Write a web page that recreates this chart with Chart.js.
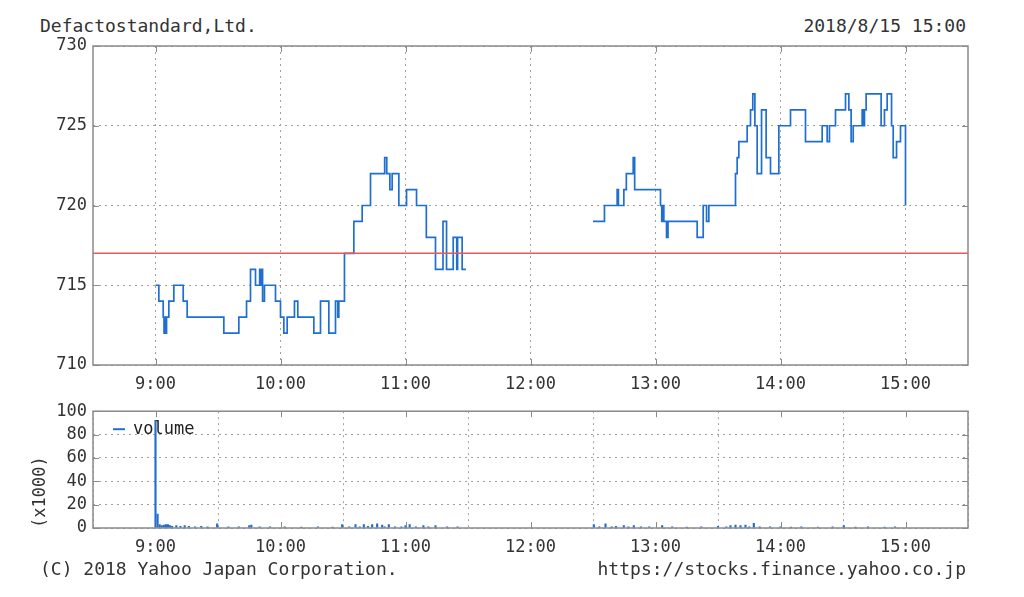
<!DOCTYPE html>
<html>
<head>
<meta charset="utf-8">
<title>Defactostandard,Ltd.</title>
<script src="https://cdn.jsdelivr.net/npm/chart.js@4/dist/chart.umd.min.js"></script>
<style>
  body { margin: 0; background: #fff; }
  #wrap { position: relative; width: 1024px; height: 597px; font-family: "DejaVu Sans Mono", monospace; color: #333; }
  .txt { position: absolute; font-size: 18px; line-height: 18px; white-space: pre; }
  canvas { position: absolute; left: 0; }
</style>
</head>
<body>
<div id="wrap">
  <div class="txt" style="left:40px; top:17px;">Defactostandard,Ltd.</div>
  <div class="txt" style="right:58px; top:17px;">2018/8/15 15:00</div>
  <canvas id="priceChart" width="1024" height="400" style="top:0;"></canvas>
  <canvas id="volChart" width="1024" height="202" style="top:395px;"></canvas>
  <div class="txt" style="left:40px; top:560px;">(C) 2018 Yahoo Japan Corporation.</div>
  <div class="txt" style="right:58px; top:560px;">https://stocks.finance.yahoo.co.jp</div>
</div>
<script>
// Morning session: minutes after 9:00 where the price changes, and the new price
const amMinutes = [0, 1.6, 3.7, 4.1, 4.5, 5.0, 5.3, 6.4, 8.8, 13.3,
                   15.2, 32.8, 40, 43.7, 45.6, 48, 50, 50.5, 51, 51.4,
                   52.3, 57.6, 60, 61.6, 63.2, 66.7, 68.3, 76, 79.2, 83.2,
                   86.4, 87.5, 88, 90.7, 95.2, 99.2, 103.2, 110, 111, 112.5,
                   113.6, 116.8, 120.5, 125.3, 130, 134.4, 138, 139.7, 142.9, 144.6,
                   145, 147.2, 149];
const amPrices  = [715, 714, 713, 712, 713, 712, 713, 714, 715, 714,
                   713, 712, 713, 714, 716, 715, 716, 715, 716, 714,
                   715, 714, 713, 712, 713, 714, 713, 712, 714, 712,
                   714, 713, 714, 717, 719, 720, 722, 723, 722, 721,
                   722, 720, 721, 720, 718, 716, 719, 716, 718, 716,
                   718, 716, 716];

// Afternoon session
const pmMinutes = [210, 215.5, 221.6, 222.2, 224.8, 226, 229.3, 230, 242.4, 243,
                   243.5, 244, 245.3, 246, 260, 262.9, 264.5, 265.6, 278.4, 279.2,
                   280, 284, 285.6, 286.7, 287.7, 288.8, 290.9, 293.1, 295.2, 299.2,
                   304.8, 312, 320, 322.4, 323.5, 326.4, 331.2, 332.8, 333.9, 334.9,
                   339.2, 339.8, 340.3, 341.1, 348.3, 349.9, 351.2, 353.3, 354.1, 355.7,
                   357.6, 360];
const pmPrices  = [719, 720, 721, 720, 721, 722, 723, 721, 720, 719,
                   720, 719, 718, 719, 718, 720, 719, 720, 722, 723,
                   724, 725, 726, 727, 725, 722, 726, 723, 722, 725,
                   726, 724, 725, 724, 725, 726, 727, 726, 724, 725,
                   726, 725, 726, 727, 725, 726, 727, 725, 723, 724,
                   725, 720];

// Previous close (red line)
const prevClose = 717;

// Volume (x1000 shares)
const volMinutes = [0, 1, 2, 3, 4, 5, 6, 7, 8, 10, 12, 14, 16, 19, 22, 25, 29.6, 35, 40, 45, 46, 50, 55, 62, 70, 78, 85,
                    89.6, 93, 96, 98, 100, 102, 104, 106.4, 108.8, 110, 112, 115, 118, 120, 122, 125, 128.6, 131, 134.4, 140, 145,
                    210.4, 213, 216, 219, 221, 224.8, 227, 229.6, 233, 237, 243.2, 248, 255, 262, 270, 274, 276, 278.4, 280.8, 283.2,
                    285, 287.2, 290, 295, 300, 305, 310, 318, 325, 330.4, 336, 342, 350, 355];
const volValues  = [92, 12, 3, 2, 2.5, 3, 3, 2, 1.5, 2, 1.5, 2, 1.5, 1, 1.5, 1, 3.5, 1, 1, 2, 2.5, 1, 1, 1, 0.8, 1, 0.8,
                    3, 1, 3, 1, 3, 1.5, 3, 3.5, 2.5, 1, 3, 1, 1, 2, 3, 1, 2, 1, 2, 1, 1,
                    3, 1, 3.5, 1, 1.5, 2, 1, 2, 1, 1, 2, 1, 0.8, 1, 1.5, 1, 2, 2.5, 2, 2.5,
                    1, 4, 1, 1, 1, 0.8, 1, 0.8, 1, 2, 0.8, 1, 0.8, 1];

// Hour ticks on the x axis
const hourTicks  = [0, 60, 120, 180, 240, 300, 360];
const hourLabels = ['9:00', '10:00', '11:00', '12:00', '13:00', '14:00', '15:00'];

const textColor = '#333';
const tickFont = { family: 'DejaVu Sans Mono', size: 17 };
const gridStyle = { color: '#a0a0a0', lineWidth: 1, drawTicks: false };
const dash = [2, 4];

// Frame around the plot area, with short inner ticks
const framePlugin = {
    id: 'frame',
    afterDraw(chart) {
        const { ctx, chartArea: a, scales } = chart;
        ctx.save();
        ctx.strokeStyle = '#8a8a8a';
        ctx.lineWidth = 1.5;
        ctx.strokeRect(a.left, a.top, a.right - a.left, a.bottom - a.top);
        ctx.lineWidth = 1;
        ctx.beginPath();
        hourTicks.forEach(v => {
            const px = Math.round(scales.x.getPixelForValue(v)) + 0.5;
            ctx.moveTo(px, a.top); ctx.lineTo(px, a.top + 6);
            ctx.moveTo(px, a.bottom); ctx.lineTo(px, a.bottom - 6);
        });
        scales.y.ticks.forEach(t => {
            const py = Math.round(scales.y.getPixelForValue(t.value)) + 0.5;
            ctx.moveTo(a.left, py); ctx.lineTo(a.left + 6, py);
            ctx.moveTo(a.right, py); ctx.lineTo(a.right - 6, py);
        });
        ctx.stroke();
        ctx.restore();
    }
};

// Legend drawn inside the volume plot, under the bars
const volLegendPlugin = {
    id: 'volLegend',
    beforeDatasetsDraw(chart) {
        const { ctx, chartArea: a } = chart;
        ctx.save();
        ctx.strokeStyle = '#1f6fd1';
        ctx.lineWidth = 2;
        ctx.beginPath();
        ctx.moveTo(a.left + 20, a.top + 18);
        ctx.lineTo(a.left + 32, a.top + 18);
        ctx.stroke();
        ctx.fillStyle = '#222';
        ctx.font = '17px "DejaVu Sans Mono"';
        ctx.textBaseline = 'middle';
        ctx.fillText('volume', a.left + 40, a.top + 18);
        ctx.restore();
    }
};

// Common x axis (minutes after 9:00, from 8:30 to 15:30)
function makeX(pad, height) {
    return {
        type: 'linear',
        min: -30,
        max: 390,
        offset: false,
        afterBuildTicks: scale => { scale.ticks = hourTicks.map(v => ({ value: v })); },
        afterFit: scale => { scale.height = height; },
        ticks: {
            color: textColor, font: tickFont, padding: pad, maxRotation: 0, autoSkip: false,
            callback: v => hourLabels[hourTicks.indexOf(v)]
        },
        grid: gridStyle,
        border: { display: false, dash: dash }
    };
}

// Price chart
function createPriceChart() {
    const ctx = document.getElementById('priceChart').getContext('2d');
    const am = amMinutes.map((m, i) => ({ x: m, y: amPrices[i] }));
    const pm = pmMinutes.map((m, i) => ({ x: m, y: pmPrices[i] }));
    new Chart(ctx, {
        type: 'line',
        data: {
            datasets: [{
                data: [{ x: -30, y: prevClose }, { x: 390, y: prevClose }],
                borderColor: '#e35b5b', borderWidth: 1.5, pointRadius: 0
            }, {
                data: am, stepped: 'before',
                borderColor: '#1f6fd1', borderWidth: 1.7, pointRadius: 0
            }, {
                data: pm, stepped: 'before',
                borderColor: '#1f6fd1', borderWidth: 1.7, pointRadius: 0
            }]
        },
        options: {
            responsive: false,
            animation: false,
            layout: { padding: { top: 46, right: 56, left: 0, bottom: 0 } },
            plugins: { legend: { display: false }, tooltip: { enabled: false } },
            scales: {
                x: makeX(9, 35),
                y: {
                    min: 710, max: 730,
                    afterFit: scale => { scale.width = 93; },
                    ticks: { stepSize: 5, color: textColor, font: tickFont, padding: 6 },
                    grid: gridStyle,
                    border: { display: false, dash: dash }
                }
            }
        },
        plugins: [framePlugin]
    });
}

// Volume chart
function createVolChart() {
    const ctx = document.getElementById('volChart').getContext('2d');
    const vol = volMinutes.map((m, i) => ({ x: m, y: volValues[i] }));
    new Chart(ctx, {
        type: 'bar',
        data: {
            datasets: [{
                data: vol,
                backgroundColor: '#1f6fd1',
                barThickness: 1.5
            }]
        },
        options: {
            responsive: false,
            animation: false,
            layout: { padding: { top: 2, right: 56, left: 30, bottom: 0 } },
            plugins: { legend: { display: false }, tooltip: { enabled: false } },
            scales: {
                x: makeX(9, 69),
                y: {
                    min: 0, max: 100,
                    afterFit: scale => { scale.width = 63; },
                    title: { display: true, text: '(x1000)', color: textColor, font: tickFont, align: 'start', padding: 0 },
                    ticks: { stepSize: 20, color: textColor, font: tickFont, padding: 6, autoSkip: false },
                    grid: gridStyle,
                    border: { display: false, dash: dash }
                }
            }
        },
        plugins: [volLegendPlugin, framePlugin]
    });
}

createPriceChart();
createVolChart();
</script>
</body>
</html>
